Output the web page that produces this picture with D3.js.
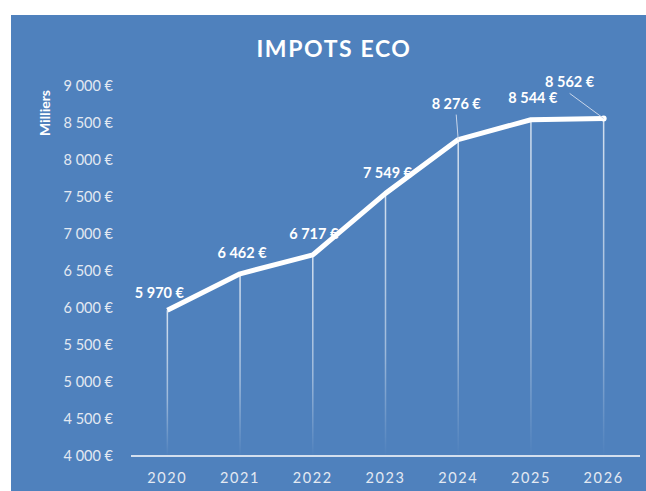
<!DOCTYPE html>
<html>
<head>
<meta charset="utf-8">
<script src="https://cdn.jsdelivr.net/npm/d3@7"></script>
<style>
  body { margin: 0; background: #fff; }
  svg text { font-family: Lato, "Open Sans", sans-serif; }
</style>
</head>
<body>
<div id="chart"></div>
<script>
// Data
var years  = ["2020", "2021", "2022", "2023", "2024", "2025", "2026"];
var values = [5970, 6462, 6717, 7549, 8276, 8544, 8562];
var yTicks = [4000, 4500, 5000, 5500, 6000, 6500, 7000, 7500, 8000, 8500, 9000];

// label nudges (dx, dy from the point, leader = draw a leader line)
var labelNudge = [
    { dx: -8, dy: -17 },
    { dx: 2,  dy: -21 },
    { dx: 1,  dy: -21 },
    { dx: 2,  dy: -20 },
    { dx: -2, dy: -36, leader: true },
    { dx: 2,  dy: -22 },
    { dx: -34, dy: -36, leader: true }
];

var W = 646, H = 491;
var margin = { top: 86, left: 131, right: 6, bottom: 35 };

var fmt = function(v){
    // french thousands separator
    var s = String(v);
    return s.replace(/\B(?=(\d{3})+(?!\d))/g, " ") + " €";
};

var svg = d3.select("#chart").append("svg")
    .attr("width", W).attr("height", H);

var defs = svg.append("defs");
var grad = defs.append("linearGradient")
    .attr("id", "dropGrad")
    .attr("gradientUnits", "objectBoundingBox")
    .attr("x1", 0).attr("y1", 0).attr("x2", 0).attr("y2", 1);
grad.append("stop").attr("offset", "0%").attr("stop-color", "#fff").attr("stop-opacity", 0.75);
grad.append("stop").attr("offset", "60%").attr("stop-color", "#fff").attr("stop-opacity", 0.45);
grad.append("stop").attr("offset", "100%").attr("stop-color", "#fff").attr("stop-opacity", 0);

// background panel
svg.append("rect")
    .attr("x", 11).attr("y", 15)
    .attr("width", 635).attr("height", H - 15)
    .attr("fill", "#4f81bd");

var x = d3.scaleBand().domain(years).range([margin.left, W - margin.right]);
var y = d3.scaleLinear().domain([4000, 9000]).range([456, margin.top]);

// title
svg.append("text")
    .attr("x", 334).attr("y", 57)
    .attr("text-anchor", "middle")
    .attr("fill", "#fff")
    .attr("font-size", 23)
    .attr("font-weight", "bold")
    .attr("letter-spacing", 1.6)
    .text("IMPOTS ECO");

// y label
svg.append("text")
    .attr("transform", "translate(50,113) rotate(-90)")
    .attr("text-anchor", "middle")
    .attr("fill", "#fff")
    .attr("font-size", 14)
    .attr("font-weight", "bold")
    .text("Milliers");

// y tick labels
svg.append("g")
    .selectAll("text")
    .data(yTicks)
    .enter().append("text")
    .attr("x", 113)
    .attr("y", function(d){ return y(d); })
    .attr("dy", "0.35em")
    .attr("text-anchor", "end")
    .attr("fill", "#e3e9f2")
    .attr("font-size", 14.5)
    .text(fmt);

// x labels
svg.append("g")
    .selectAll("text")
    .data(years)
    .enter().append("text")
    .attr("x", function(d){ return x(d) + x.bandwidth() / 2; })
    .attr("y", 478)
    .attr("dy", "0.35em")
    .attr("text-anchor", "middle")
    .attr("fill", "#e3e9f2")
    .attr("font-size", 14.5)
    .attr("letter-spacing", 1.6)
    .text(function(d){ return d; });

// drop lines
svg.append("g")
    .selectAll("rect")
    .data(values)
    .enter().append("rect")
    .attr("x", function(d, i){ return x(years[i]) + x.bandwidth() / 2 - 0.75; })
    .attr("y", function(d){ return y(d); })
    .attr("width", 1.5)
    .attr("height", function(d){ return y(4000) - y(d); })
    .attr("fill", "url(#dropGrad)");

// baseline
svg.append("line")
    .attr("x1", margin.left).attr("x2", W - margin.right)
    .attr("y1", y(4000)).attr("y2", y(4000))
    .attr("stroke", "#fff").attr("stroke-width", 1.5);

// main line
var line = d3.line()
    .x(function(d, i){ return x(years[i]) + x.bandwidth() / 2; })
    .y(function(d){ return y(d); });

svg.append("path")
    .datum(values)
    .attr("d", line)
    .attr("fill", "none")
    .attr("stroke", "#fff")
    .attr("stroke-width", 5)
    .attr("stroke-linejoin", "round");

// end marker
svg.append("circle")
    .attr("cx", x(years[6]) + x.bandwidth() / 2)
    .attr("cy", y(values[6]))
    .attr("r", 3)
    .attr("fill", "#fff");

// leader lines
svg.append("g")
    .selectAll("line")
    .data(values.map(function(v, i){ return { v: v, i: i, n: labelNudge[i] }; })
                .filter(function(d){ return d.n.leader; }))
    .enter().append("line")
    .attr("x1", function(d){ return x(years[d.i]) + x.bandwidth() / 2 + d.n.dx; })
    .attr("y1", function(d){ return y(d.v) + d.n.dy + 11; })
    .attr("x2", function(d){ return x(years[d.i]) + x.bandwidth() / 2; })
    .attr("y2", function(d){ return y(d.v); })
    .attr("stroke", "#c9d6ea")
    .attr("stroke-width", 1);

// data labels
svg.append("g")
    .selectAll("text")
    .data(values)
    .enter().append("text")
    .attr("x", function(d, i){ return x(years[i]) + x.bandwidth() / 2 + labelNudge[i].dx; })
    .attr("y", function(d, i){ return y(d) + labelNudge[i].dy; })
    .attr("dy", "0.35em")
    .attr("text-anchor", "middle")
    .attr("fill", "#fff")
    .attr("font-size", 14.5)
    .attr("font-weight", "bold")
    .text(fmt);
</script>
</body>
</html>
